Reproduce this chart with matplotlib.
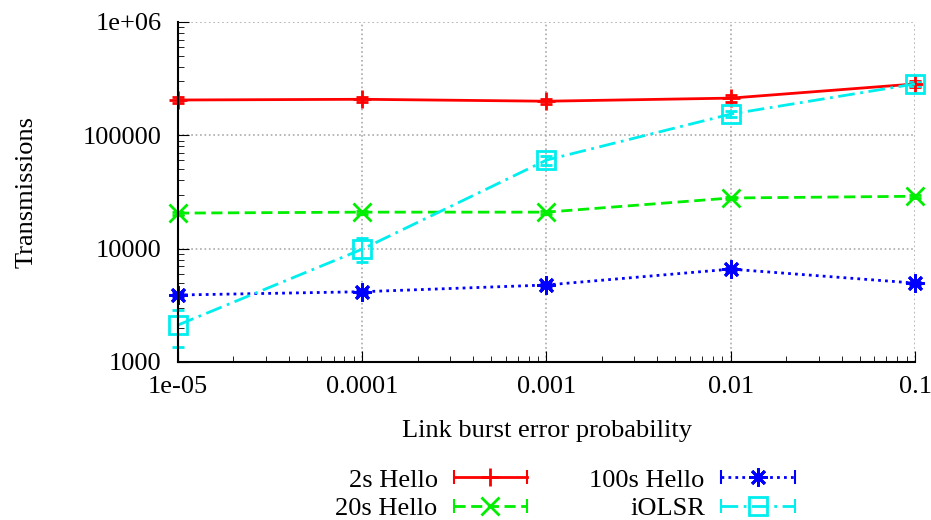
import matplotlib.pyplot as plt
import matplotlib as mpl
import numpy as np
from matplotlib.lines import Line2D
from matplotlib.legend_handler import HandlerLine2D, HandlerTuple

mpl.rcParams['font.family'] = ['Liberation Serif', 'DejaVu Serif']

# Link burst error probability
x = [1e-5, 1e-4, 1e-3, 1e-2, 1e-1]
x_labels = ['1e-05', '0.0001', '0.001', '0.01', '0.1']

hello2 = [205000, 208000, 200000, 213000, 284000]
hello2_err = [12000, 12000, 10000, 15000, 15000]
hello20 = [20600, 21000, 21000, 28000, 29000]
hello20_err = [600, 600, 600, 800, 800]
hello100 = [3900, 4170, 4780, 6600, 4970]
hello100_err = [150, 150, 150, 200, 150]
iolsr = [2120, 9900, 60500, 154000, 284000]
iolsr_lo = [1355, 7620, 55000, 145000, 270000]
iolsr_hi = [2870, 12400, 66000, 163000, 298000]

y_ticks = [1000, 10000, 100000, 1000000]
y_labels = ['1000', '10000', '100000', '1e+06']

FS = 19

fig = plt.figure(figsize=(9.31, 5.2), dpi=100)
ax = fig.add_axes([178/931, 1-362/520, (915-178)/931, (362-22)/520])

styles = [
    ('2s Hello', hello2, hello2_err, '#ff0000', '-', '+', 'none'),
    ('20s Hello', hello20, hello20_err, '#00ee00', (0, (4, 2)), 'x', 'none'),
    ('100s Hello', hello100, hello100_err, '#0000ff', (0, (1, 1.5)), (8, 2, 0), 'none'),
    ('iOLSR', iolsr, [np.array(iolsr) - np.array(iolsr_lo), np.array(iolsr_hi) - np.array(iolsr)],
     '#00eeee', (0, (6, 2, 1, 2)), 's', 'none'),
]

handles, labels, hmap = [], [], {}
for label, y, err, c, ls, m, mfc in styles:
    eb = ax.errorbar(x, y, yerr=err, color=c, linestyle=ls, marker=m, markerfacecolor=mfc,
                     linewidth=2, capsize=4, elinewidth=1.5, capthick=1.5,
                     markersize=13, markeredgewidth=2)
    for art in [eb[0], *eb[1], *eb[2]]:
        art.set_clip_on(False)
    main = Line2D([], [], color=c, linestyle=ls, linewidth=2, marker=m,
                  markerfacecolor=mfc, markersize=13, markeredgewidth=2)
    cap = Line2D([], [], color=c, linestyle='none', marker='|', markersize=10, markeredgewidth=1.5)
    hmap[cap] = HandlerLine2D(numpoints=2, marker_pad=0)
    handles.append((main, cap))
    labels.append(label)
hmap[tuple] = HandlerTuple(ndivide=1)

ax.set_xscale('log')
ax.set_yscale('log')
ax.set_xlim(1e-5, 0.1)
ax.set_ylim(1000, 1e6)
ax.set_xticks(x)
ax.set_xticklabels(x_labels)
ax.set_yticks(y_ticks)
ax.set_yticklabels(y_labels)
ax.tick_params(which='both', direction='in', labelsize=FS)
ax.tick_params(axis='y', pad=12)
ax.tick_params(axis='x', pad=10)
ax.tick_params(which='major', length=8)
ax.tick_params(which='minor', length=4)
ax.grid(True, which='major', color='#aaaaaa', linestyle=':', linewidth=1.2)
for s in ['top', 'right']:
    ax.spines[s].set_visible(False)
for s in ['left', 'bottom']:
    ax.spines[s].set_linewidth(1.5)

ax.set_xlabel('Link burst error probability', fontsize=FS, labelpad=16)
ax.set_ylabel('Transmissions', fontsize=FS, labelpad=32)

fig.legend(handles, labels, handler_map=hmap, loc='upper center',
           bbox_to_anchor=(565/931, 1-455/520), ncol=2, frameon=False,
           fontsize=FS, markerfirst=False, handlelength=2.8, columnspacing=2.35,
           labelspacing=0.2, handletextpad=0.6, borderpad=0)

fig.savefig('out.png', dpi=100)
